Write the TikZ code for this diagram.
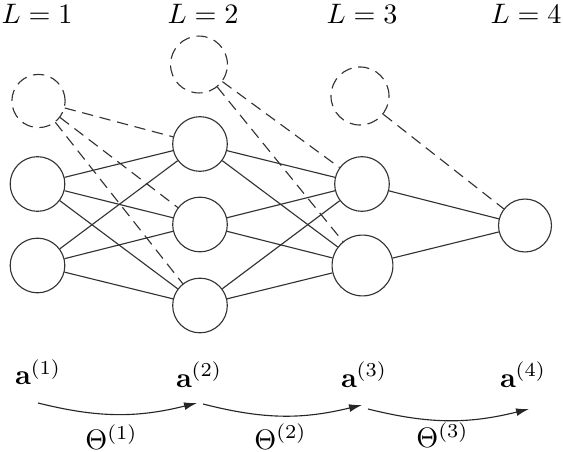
\documentclass[tikz,border=0pt]{standalone}
\usetikzlibrary{arrows.meta}
\begin{document}
\begin{tikzpicture}[x=0.355pt,y=-0.355pt,
  neuron/.style={circle,draw=black!80,line width=0.4pt,inner sep=0pt,minimum size=19.4pt},
  biasnode/.style={neuron,dash pattern=on 4pt off 2.4pt},
  edge/.style={draw=black!80,line width=0.4pt},
  biasedge/.style={edge,dash pattern=on 4pt off 2.4pt},
  flow/.style={draw=black!85,line width=0.4pt,-{Latex[length=4.6pt,width=2.8pt]}},
  lbl/.style={inner sep=0pt,anchor=base}]
\useasboundingbox (0,0) rectangle (563,452);
% layer titles
\node[lbl] (t1) at (37,23) {$L=1$};
\node[lbl] (t2) at (203,23) {$L=2$};
\node[lbl] (t3) at (362,23) {$L=3$};
\node[lbl] (t4) at (526,23) {$L=4$};
% bias units
\node[biasnode,minimum size=18.9pt] (b1) at (38.5,101) {};
\node[biasnode,minimum size=20.2pt] (b2) at (199,64.5) {};
\node[biasnode,minimum size=20.6pt] (b3) at (360,96) {};
% neurons
\node[neuron] (n11) at (37.5,184) {};
\node[neuron] (n12) at (37.5,265.5) {};
\node[neuron] (n21) at (200,144) {};
\node[neuron] (n22) at (200,224.5) {};
\node[neuron] (n23) at (200,305.5) {};
\node[neuron] (n31) at (362,184) {};
\node[neuron,minimum size=21.6pt] (n32) at (362.5,265.5) {};
\node[neuron,minimum size=18.8pt] (n41) at (525,225.5) {};
% solid connections
\foreach \s in {n11,n12}{\foreach \t in {n21,n22,n23}{\path[edge] (\s) -- (\t);}}
\foreach \s in {n21,n22,n23}{\foreach \t in {n31,n32}{\path[edge] (\s) -- (\t);}}
\foreach \s in {n31,n32}{\path[edge] (\s) -- (n41);}
% bias connections
\foreach \t in {n21,n22,n23}{\path[biasedge] (b1) -- (\t);}
\foreach \t in {n31,n32}{\path[biasedge] (b2) -- (\t);}
\path[biasedge] (b3) -- (n41);
% activations
\node[lbl] (a1) at (38,385) {$\mathbf{a}^{(1)}$};
\node[lbl] (a2) at (199,387) {$\mathbf{a}^{(2)}$};
\node[lbl] (a3) at (364,387) {$\mathbf{a}^{(3)}$};
\node[lbl] (a4) at (523,387) {$\mathbf{a}^{(4)}$};
% arrow ends
\coordinate (s1) at (38,403);
\coordinate (e1) at (197,403);
\coordinate (s2) at (203,404);
\coordinate (e2) at (362,405);
\coordinate (s3) at (368,409);
\coordinate (e3) at (529,409);
\draw[flow] (s1) to[bend right=14] (e1);
\draw[flow] (s2) to[bend right=14] (e2);
\draw[flow] (s3) to[bend right=14] (e3);
% weights
\node[lbl] (w1) at (111.5,450) {$\Theta^{(1)}$};
\node[lbl] (w2) at (280.5,449) {$\Theta^{(2)}$};
\node[lbl] (w3) at (442.5,447.5) {$\Theta^{(3)}$};
\end{tikzpicture}
\end{document}
